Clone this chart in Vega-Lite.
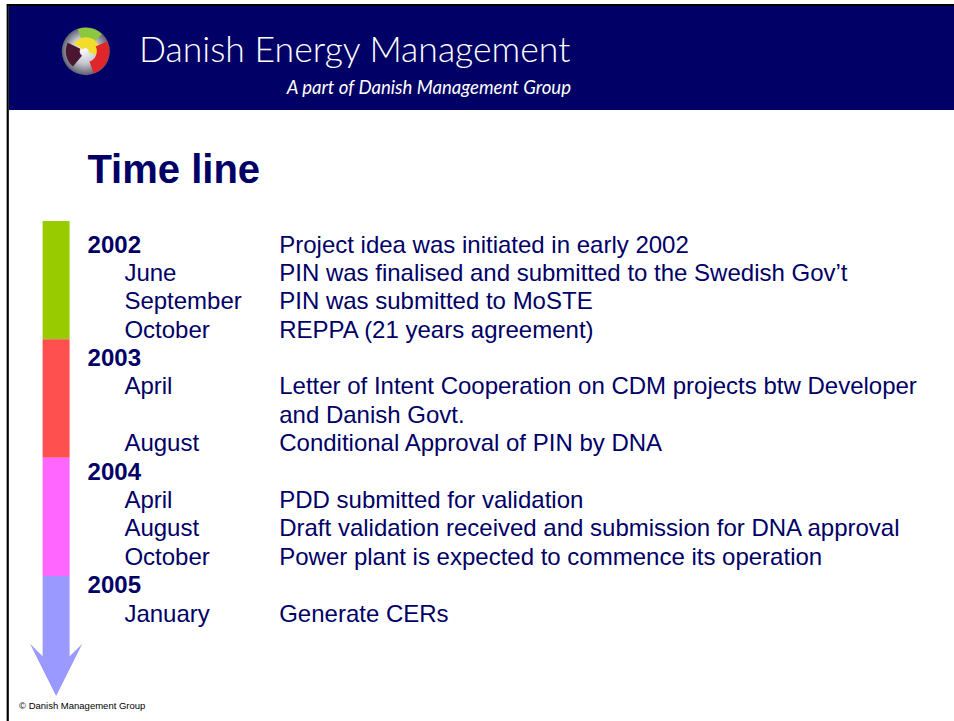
{
  "$schema": "https://vega.github.io/schema/vega-lite/v6.json",
  "width": 954,
  "height": 721,
  "autosize": {"type": "fit", "contains": "padding"},
  "padding": 0,
  "background": "white",
  "config": {"view": {"stroke": null}, "text": {"font": "Liberation Sans"}},
  "datasets": {
    "timeline": [
      {"line": 0, "year": "2002", "month": "", "event": "Project idea was initiated in early 2002"},
      {"line": 1, "year": "", "month": "June", "event": "PIN was finalised and submitted to the Swedish Gov’t"},
      {"line": 2, "year": "", "month": "September", "event": "PIN was submitted to MoSTE"},
      {"line": 3, "year": "", "month": "October", "event": "REPPA (21 years agreement)"},
      {"line": 4, "year": "2003", "month": "", "event": ""},
      {"line": 5, "year": "", "month": "April", "event": "Letter of Intent Cooperation on CDM projects btw Developer"},
      {"line": 6, "year": "", "month": "", "event": "and Danish Govt."},
      {"line": 7, "year": "", "month": "August", "event": "Conditional Approval of PIN by DNA"},
      {"line": 8, "year": "2004", "month": "", "event": ""},
      {"line": 9, "year": "", "month": "April", "event": "PDD submitted for  validation"},
      {"line": 10, "year": "", "month": "August", "event": "Draft  validation received and submission for DNA approval"},
      {"line": 11, "year": "", "month": "October", "event": "Power plant is expected to commence its operation"},
      {"line": 12, "year": "2005", "month": "", "event": ""},
      {"line": 13, "year": "", "month": "January", "event": "Generate CERs"}
    ],
    "years": [
      {"year": "2002", "start": 2002, "end": 2003},
      {"year": "2003", "start": 2003, "end": 2004},
      {"year": "2004", "start": 2004, "end": 2005}
    ]
  },
  "resolve": {"scale": {"y": "independent", "x": "shared"}},
  "layer": [
    {
      "data": {"values": [{"part": "banner"}]},
      "mark": {"type": "rect", "color": "#000066"},
      "encoding": {
        "x": {"datum": 6.75, "type": "quantitative", "scale": {"domain": [0, 715.5], "range": [0, 954], "nice": false, "zero": false}, "axis": null},
        "x2": {"datum": 715.5},
        "y": {"datum": 4.5, "type": "quantitative", "scale": {"domain": [0, 540.75], "range": [0, 721], "nice": false, "zero": false}, "axis": null},
        "y2": {"datum": 82.5}
      }
    },
    {
      "data": {"values": [{"part": "logo"}]},
      "mark": {"type": "arc", "theta": 0, "theta2": 6.2832, "innerRadius": 0, "outerRadius": 24,
        "fill": {"gradient": "radial", "x1": 0.45, "y1": 0.45, "r1": 0, "x2": 0.5, "y2": 0.5, "r2": 0.5,
          "stops": [{"offset": 0, "color": "#ffffff"}, {"offset": 0.55, "color": "#c8c8d2"}, {"offset": 1, "color": "#5e6070"}]},
        "stroke": null},
      "encoding": {
        "x": {"datum": 64.35, "type": "quantitative", "scale": {"domain": [0, 715.5], "range": [0, 954], "nice": false, "zero": false}, "axis": null},
        "y": {"datum": 38.4, "type": "quantitative", "scale": {"domain": [0, 540.75], "range": [0, 721], "nice": false, "zero": false}, "axis": null}
      }
    },
    {
      "data": {"values": [{"part": "logo"}]},
      "mark": {"type": "arc", "theta": -0.35, "theta2": 0.75, "innerRadius": 12, "outerRadius": 23.5, "color": "#8dc63f"},
      "encoding": {
        "x": {"datum": 64.35, "type": "quantitative", "scale": {"domain": [0, 715.5], "range": [0, 954], "nice": false, "zero": false}, "axis": null},
        "y": {"datum": 38.4, "type": "quantitative", "scale": {"domain": [0, 540.75], "range": [0, 721], "nice": false, "zero": false}, "axis": null}
      }
    },
    {
      "data": {"values": [{"part": "logo"}]},
      "mark": {"type": "arc", "theta": -1.0, "theta2": 1.9, "innerRadius": 3, "outerRadius": 14, "color": "#f2dc2e"},
      "encoding": {
        "x": {"datum": 64.35, "type": "quantitative", "scale": {"domain": [0, 715.5], "range": [0, 954], "nice": false, "zero": false}, "axis": null},
        "y": {"datum": 38.4, "type": "quantitative", "scale": {"domain": [0, 540.75], "range": [0, 721], "nice": false, "zero": false}, "axis": null}
      }
    },
    {
      "data": {"values": [{"part": "logo"}]},
      "mark": {"type": "arc", "theta": 1.13, "theta2": 2.8, "innerRadius": 11, "outerRadius": 23.5, "color": "#e0252b"},
      "encoding": {
        "x": {"datum": 64.35, "type": "quantitative", "scale": {"domain": [0, 715.5], "range": [0, 954], "nice": false, "zero": false}, "axis": null},
        "y": {"datum": 38.4, "type": "quantitative", "scale": {"domain": [0, 540.75], "range": [0, 721], "nice": false, "zero": false}, "axis": null}
      }
    },
    {
      "data": {"values": [{"part": "logo"}]},
      "mark": {"type": "arc", "theta": 3.84, "theta2": 5.15, "innerRadius": 6, "outerRadius": 20, "color": "#4a1630"},
      "encoding": {
        "x": {"datum": 64.35, "type": "quantitative", "scale": {"domain": [0, 715.5], "range": [0, 954], "nice": false, "zero": false}, "axis": null},
        "y": {"datum": 38.4, "type": "quantitative", "scale": {"domain": [0, 540.75], "range": [0, 721], "nice": false, "zero": false}, "axis": null}
      }
    },
    {
      "data": {"values": [{"label": "Danish Energy Management"}]},
      "mark": {"type": "text", "align": "left", "baseline": "alphabetic", "font": "Lato", "fontWeight": 300, "fontSize": 35.6, "color": "white"},
      "encoding": {
        "x": {"datum": 104.25, "type": "quantitative", "scale": {"domain": [0, 715.5], "range": [0, 954], "nice": false, "zero": false}, "axis": null},
        "y": {"datum": 46.7, "type": "quantitative", "scale": {"domain": [0, 540.75], "range": [0, 721], "nice": false, "zero": false}, "axis": null},
        "text": {"field": "label"}
      }
    },
    {
      "data": {"values": [{"label": "A part of Danish Management Group"}]},
      "mark": {"type": "text", "align": "right", "baseline": "alphabetic", "font": "Lato", "fontSize": 18.6, "fontStyle": "italic", "color": "white"},
      "encoding": {
        "x": {"datum": 428.25, "type": "quantitative", "scale": {"domain": [0, 715.5], "range": [0, 954], "nice": false, "zero": false}, "axis": null},
        "y": {"datum": 70.7, "type": "quantitative", "scale": {"domain": [0, 540.75], "range": [0, 721], "nice": false, "zero": false}, "axis": null},
        "text": {"field": "label"}
      }
    },
    {
      "data": {"values": [{"part": "frame"}]},
      "mark": {"type": "rule", "color": "black", "strokeWidth": 2.2},
      "encoding": {
        "x": {"datum": 5.2, "type": "quantitative", "scale": {"domain": [0, 715.5], "range": [0, 954], "nice": false, "zero": false}, "axis": null},
        "x2": {"datum": 715.5},
        "y": {"datum": 3.75, "type": "quantitative", "scale": {"domain": [0, 540.75], "range": [0, 721], "nice": false, "zero": false}, "axis": null}
      }
    },
    {
      "data": {"values": [{"part": "frame"}]},
      "mark": {"type": "rule", "color": "black", "strokeWidth": 2.2},
      "encoding": {
        "x": {"datum": 5.8, "type": "quantitative", "scale": {"domain": [0, 715.5], "range": [0, 954], "nice": false, "zero": false}, "axis": null},
        "y": {"datum": 3, "type": "quantitative", "scale": {"domain": [0, 540.75], "range": [0, 721], "nice": false, "zero": false}, "axis": null},
        "y2": {"datum": 540.75}
      }
    },
    {
      "data": {"values": [{"label": "Time line"}]},
      "mark": {"type": "text", "align": "left", "baseline": "alphabetic", "fontSize": 40, "fontWeight": "bold", "color": "#000066"},
      "encoding": {
        "x": {"datum": 65.55, "type": "quantitative", "scale": {"domain": [0, 715.5], "range": [0, 954], "nice": false, "zero": false}, "axis": null},
        "y": {"datum": 137.0, "type": "quantitative", "scale": {"domain": [0, 540.75], "range": [0, 721], "nice": false, "zero": false}, "axis": null},
        "text": {"field": "label"}
      }
    },
    {
      "data": {"name": "years"},
      "mark": {"type": "rect"},
      "encoding": {
        "x": {"datum": 31.95, "type": "quantitative", "scale": {"domain": [0, 715.5], "range": [0, 954], "nice": false, "zero": false}, "axis": null},
        "x2": {"datum": 52.2},
        "y": {"field": "start", "type": "quantitative", "scale": {"domain": [2002, 2005], "range": [221, 576], "nice": false, "zero": false}, "axis": null},
        "y2": {"field": "end"},
        "color": {"field": "year", "type": "nominal", "scale": {"domain": ["2002", "2003", "2004"], "range": ["#99CC00", "#FF5050", "#FF66FF"]}, "legend": null}
      }
    },
    {
      "data": {"values": [{"year": 2005}]},
      "mark": {"type": "rect", "color": "#9999FF"},
      "encoding": {
        "x": {"datum": 31.95, "type": "quantitative", "scale": {"domain": [0, 715.5], "range": [0, 954], "nice": false, "zero": false}, "axis": null},
        "x2": {"datum": 52.2},
        "y": {"field": "year", "type": "quantitative", "scale": {"domain": [2002, 2005], "range": [221, 576], "nice": false, "zero": false}, "axis": null},
        "y2": {"datum": 2005.69}
      }
    },
    {
      "data": {"values": [{"year": 2005}]},
      "mark": {"type": "point", "filled": true, "opacity": 1, "color": "#9999FF", "size": 2735,
        "shape": "M-1,-1L-0.51,-0.51L0.51,-0.51L1,-1L0,1Z"},
      "encoding": {
        "x": {"datum": 42.1, "type": "quantitative", "scale": {"domain": [0, 715.5], "range": [0, 954], "nice": false, "zero": false}, "axis": null},
        "y": {"datum": 2005.794, "type": "quantitative", "scale": {"domain": [2002, 2005], "range": [221, 576], "nice": false, "zero": false}, "axis": null}
      }
    },
    {
      "data": {"name": "timeline"},
      "transform": [{"filter": "datum.year != ''"}],
      "mark": {"type": "text", "align": "left", "baseline": "alphabetic", "fontSize": 24, "fontWeight": "bold", "color": "#000066"},
      "encoding": {
        "x": {"datum": 65.7, "type": "quantitative", "scale": {"domain": [0, 715.5], "range": [0, 954], "nice": false, "zero": false}, "axis": null},
        "y": {"field": "line", "type": "quantitative", "scale": {"domain": [0, 13], "range": [252.5, 621.5], "nice": false, "zero": false}, "axis": null},
        "text": {"field": "year"}
      }
    },
    {
      "data": {"name": "timeline"},
      "transform": [{"filter": "datum.month != ''"}],
      "mark": {"type": "text", "align": "left", "baseline": "alphabetic", "fontSize": 24, "color": "#000066"},
      "encoding": {
        "x": {"datum": 93.3, "type": "quantitative", "scale": {"domain": [0, 715.5], "range": [0, 954], "nice": false, "zero": false}, "axis": null},
        "y": {"field": "line", "type": "quantitative", "scale": {"domain": [0, 13], "range": [252.5, 621.5], "nice": false, "zero": false}, "axis": null},
        "text": {"field": "month"}
      }
    },
    {
      "data": {"name": "timeline"},
      "transform": [{"filter": "datum.event != ''"}],
      "mark": {"type": "text", "align": "left", "baseline": "alphabetic", "fontSize": 24, "color": "#000066"},
      "encoding": {
        "x": {"datum": 209.4, "type": "quantitative", "scale": {"domain": [0, 715.5], "range": [0, 954], "nice": false, "zero": false}, "axis": null},
        "y": {"field": "line", "type": "quantitative", "scale": {"domain": [0, 13], "range": [252.5, 621.5], "nice": false, "zero": false}, "axis": null},
        "text": {"field": "event"}
      }
    },
    {
      "data": {"values": [{"label": "© Danish Management Group"}]},
      "mark": {"type": "text", "align": "left", "baseline": "alphabetic", "fontSize": 9.5, "color": "black"},
      "encoding": {
        "x": {"datum": 14.25, "type": "quantitative", "scale": {"domain": [0, 715.5], "range": [0, 954], "nice": false, "zero": false}, "axis": null},
        "y": {"datum": 532.0, "type": "quantitative", "scale": {"domain": [0, 540.75], "range": [0, 721], "nice": false, "zero": false}, "axis": null},
        "text": {"field": "label"}
      }
    }
  ]
}
